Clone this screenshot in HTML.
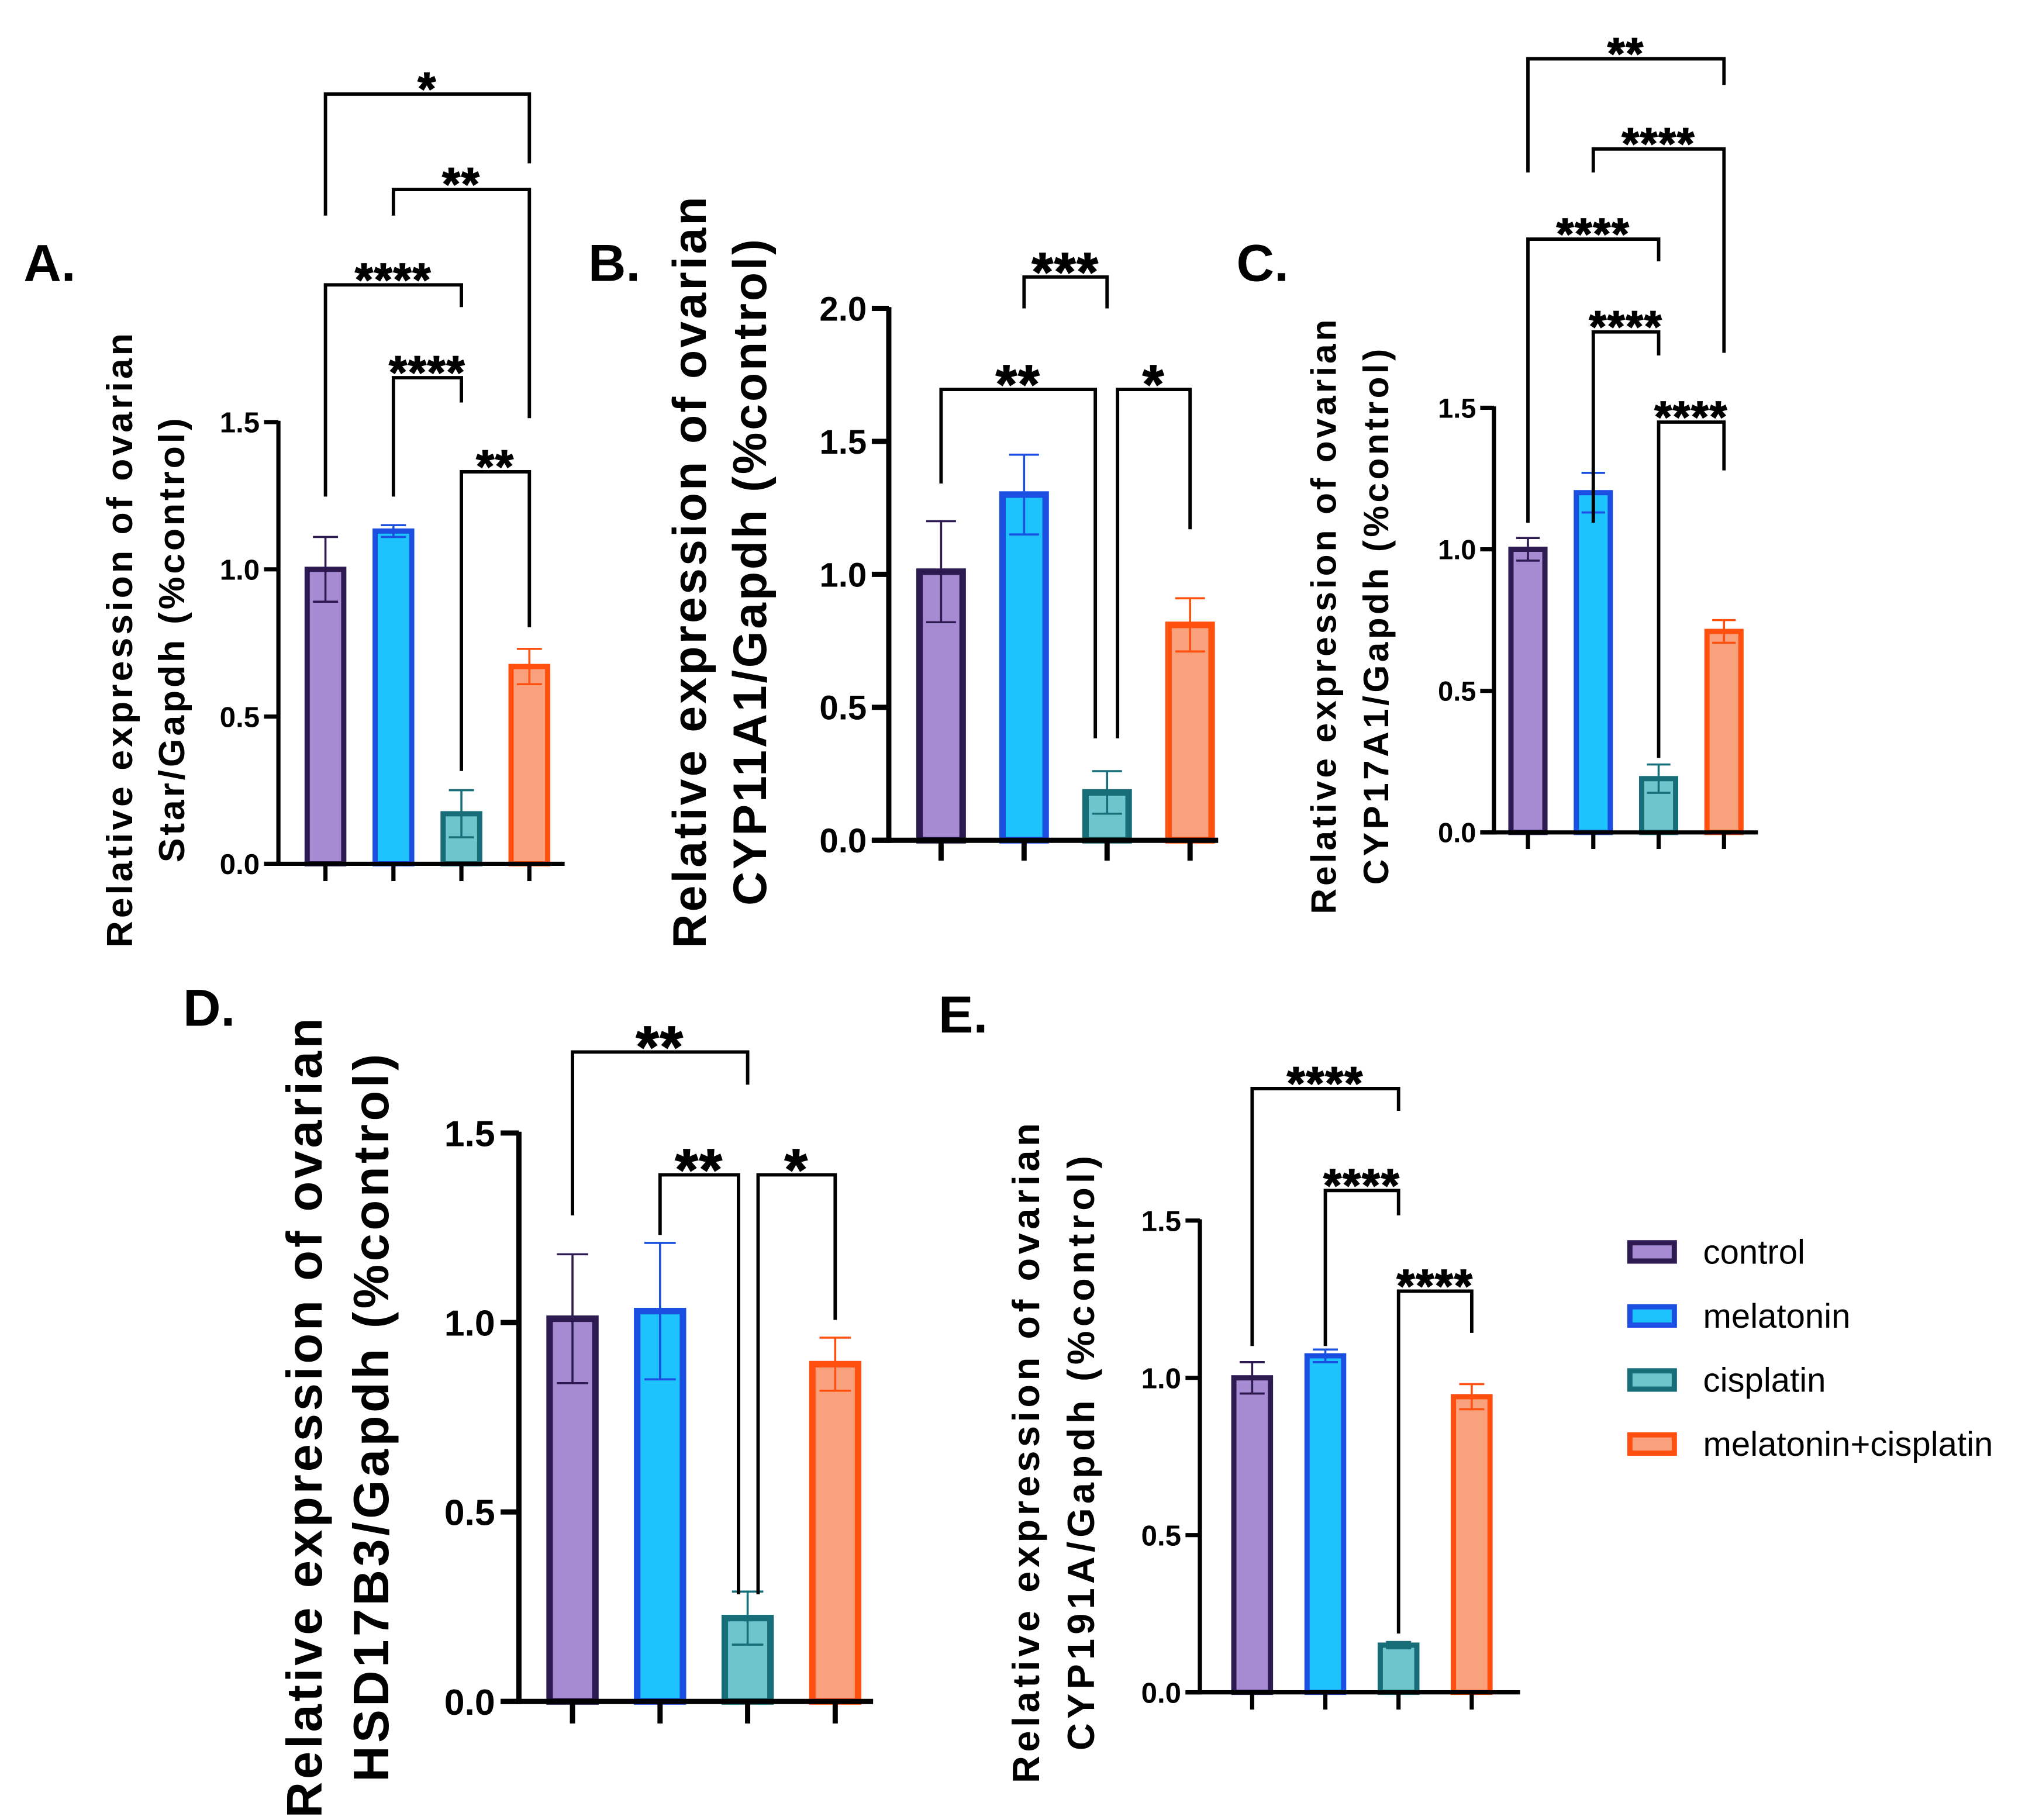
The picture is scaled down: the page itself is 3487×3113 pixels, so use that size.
<!DOCTYPE html>
<html><head><meta charset="utf-8"><style>
html,body{margin:0;padding:0;background:#fff;}
svg{display:block;font-family:"Liberation Sans",Arial,sans-serif;font-weight:bold;}
</style></head><body>
<svg id="fig" width="3487" height="3113" viewBox="0 0 1560 1392.7" xmlns="http://www.w3.org/2000/svg"></svg>
<script>
// ===== data =====
const groups = ["control","melatonin","cisplatin","melatonin+cisplatin"];
const valsA = [1.00, 1.13, 0.17, 0.67];
const errA  = [0.11, 0.02, 0.08, 0.06];
const valsB = [1.01, 1.30, 0.18, 0.81];
const errB  = [0.19, 0.15, 0.08, 0.10];
const valsC = [1.00, 1.20, 0.19, 0.71];
const errC  = [0.04, 0.07, 0.05, 0.04];
const valsD = [1.01, 1.03, 0.22, 0.89];
const errD  = [0.17, 0.18, 0.07, 0.07];
const valsE = [1.00, 1.07, 0.15, 0.94];
const errE  = [0.05, 0.02, 0.01, 0.04];
const ticksA = [0, 0.5, 1.0, 1.5];
const ticksB = [0, 0.5, 1.0, 1.5, 2.0];
const ticksC = [0, 0.5, 1.0, 1.5];
const ticksD = [0, 0.5, 1.0, 1.5];
const ticksE = [0, 0.5, 1.0, 1.5];
// significance comparisons: [groupIndex1, groupIndex2, label]
const sigA = [[0,3,"*"],[1,3,"**"],[0,2,"****"],[1,2,"****"],[2,3,"**"]];
const sigB = [[1,2,"***"],[0,2,"**"],[2,3,"*"]];
const sigC = [[0,3,"**"],[1,3,"****"],[0,2,"****"],[1,2,"****"],[2,3,"****"]];
const sigD = [[0,2,"**"],[1,2,"**"],[2,3,"*"]];
const sigE = [[0,2,"****"],[1,2,"****"],[2,3,"****"]];

const fills = ["#a68bd3","#1ec3fd","#6ec6cc","#f9a17c"];
const strokes = ["#2c1a50","#1a4fe2","#176e78","#ff5010"];

const svg = document.getElementById('fig');
const NS = "http://www.w3.org/2000/svg";
function mk(tag, attrs, parent){ const e=document.createElementNS(NS,tag); for(const k in attrs) e.setAttribute(k,attrs[k]); (parent||svg).appendChild(e); return e; }

// layout (pixel geometry, not data)
const panels = [
 {id:"a", vals:valsA, err:errA, ticks:ticksA, sig:sigA, ax:213, y0:661, ymax:1.5, ytop:323, x0:249, dx:52, bw:32, sw:4, fs:22, xend:432,
  letter:"A.", lx:18, ly:215, t1:"Relative expression of ovarian", t2:"Star/Gapdh (%control)", tx1:101, tx2:141, tcy:490, tfs:28, tl1:470, tl2:340,
  sigGeo:[[72,165,125],[145,165,320],[218,380,235],[289,380,308],[361,590,480]]},
 {id:"b", vals:valsB, err:errB, ticks:ticksB, sig:sigB, ax:680, y0:643, ymax:2.0, ytop:236, x0:720, dx:63.5, bw:38, sw:5, fs:26, xend:932,
  letter:"B.", lx:450, ly:215, t1:"Relative expression of ovarian", t2:"CYP11A1/Gapdh (%control)", tx1:540, tx2:586, tcy:438, tfs:36, tl1:575, tl2:510,
  sigGeo:[[212,236,236],[298,370,565],[298,565,405]], shift:[[0,0],[0,-9],[8,0]]},
 {id:"c", vals:valsC, err:errC, ticks:ticksC, sig:sigC, ax:1143, y0:637, ymax:1.5, ytop:312, x0:1169, dx:50, bw:30, sw:4, fs:21, xend:1345,
  letter:"C.", lx:946, ly:215, t1:"Relative expression of ovarian", t2:"CYP17A1/Gapdh (%control)", tx1:1022, tx2:1062, tcy:472, tfs:27, tl1:455, tl2:410,
  sigGeo:[[45,132,65],[114,132,270],[183,400,200],[254,400,272],[323,580,360]]},
 {id:"d", vals:valsD, err:errD, ticks:ticksD, sig:sigD, ax:397, y0:1302, ymax:1.5, ytop:867, x0:438, dx:67, bw:40, sw:5, fs:28, xend:668,
  letter:"D.", lx:140, ly:785, t1:"Relative expression of ovarian", t2:"HSD17B3/Gapdh (%control)", tx1:246, tx2:297, tcy:1085, tfs:38, tl1:612, tl2:557,
  sigGeo:[[805,930,830],[899,945,1220],[899,1220,1010]], shift:[[0,0],[0,-7],[8,0]]},
 {id:"e", vals:valsE, err:errE, ticks:ticksE, sig:sigE, ax:918, y0:1295, ymax:1.5, ytop:934, x0:958, dx:56, bw:32, sw:4, fs:22, xend:1163,
  letter:"E.", lx:718, ly:790, t1:"Relative expression of ovarian", t2:"CYP191A/Gapdh (%control)", tx1:795, tx2:837, tcy:1112, tfs:29, tl1:505, tl2:455,
  sigGeo:[[833,1030,850],[911,1030,930],[988,1250,1020]]}
];

panels.forEach(p=>{
  const g = mk('g',{});
  
  
  const y = v => p.y0 - (v/p.ymax)*(p.y0-p.ytop);
  const x = i => p.x0 + i*p.dx;
  const lw = p.sw*0.8;
  const L = mk('text',{x:p.lx,y:p.ly,'font-size':40},g); L.textContent=p.letter;
  
  
  [[p.t1,p.tx1,p.tl1],[p.t2,p.tx2,p.tl2]].forEach(([t,tx,tl])=>{
    const T = mk('text',{x:tx,y:p.tcy,'font-size':p.tfs,'text-anchor':'middle',textLength:tl,lengthAdjust:'spacing',transform:`rotate(-90 ${tx} ${p.tcy})`},g);
    T.textContent=t;
    
    
  });
  p.vals.forEach((v,i)=>{
    const top=y(v), bx=x(i)-p.bw/2;
    const r = mk('rect',{x:bx+p.sw/2,y:top,width:p.bw-p.sw,height:p.y0-top,fill:fills[i],stroke:strokes[i],'stroke-width':p.sw},g);
    
    
    const e=p.err[i], cap=p.bw*0.3;
    const eb = mk('path',{d:`M${x(i)} ${y(v-e)}V${y(v+e)}M${x(i)-cap} ${y(v+e)}H${x(i)+cap}M${x(i)-cap} ${y(v-e)}H${x(i)+cap}`,stroke:strokes[i],'stroke-width':1.6,fill:'none'},g);
    
    
    const tk = mk('line',{x1:x(i),x2:x(i),y1:p.y0,y2:p.y0+p.fs*0.6,stroke:'#000','stroke-width':lw},g);
    
    
  });
  const ya = mk('line',{x1:p.ax,x2:p.ax,y1:p.ytop-1,y2:p.y0+lw/2,stroke:'#000','stroke-width':lw},g);
  
  
  const xa = mk('line',{x1:p.ax-p.fs*0.5,x2:p.xend,y1:p.y0,y2:p.y0,stroke:'#000','stroke-width':lw},g);
  
  
  p.ticks.forEach(t=>{
    mk('line',{x1:p.ax-p.fs*0.5,x2:p.ax,y1:y(t),y2:y(t),stroke:'#000','stroke-width':lw},g);
    const tl = mk('text',{x:p.ax-p.fs*0.65,y:y(t)+p.fs*0.36,'font-size':p.fs,'text-anchor':'end'},g);
    tl.textContent=t.toFixed(1);
    
    
  });
  p.sig.forEach((s,k)=>{
    const [top,lb,rb]=p.sigGeo[k];
    const sh = p.shift?p.shift[k]:[0,0];
    const x1=x(s[0])+sh[0], x2=x(s[1])+sh[1];
    const br = mk('path',{d:`M${x1} ${lb}V${top}H${x2}V${rb}`,stroke:'#000','stroke-width':2.6,fill:'none'},g);
    
    
    const st = mk('text',{x:(x1+x2)/2,y:top-4+p.fs*0.55,'font-size':p.fs*1.6,'text-anchor':'middle','letter-spacing':1,stroke:'#000','stroke-width':0.8},g);
    st.textContent=s[2];
    
    
  });
});

const lg = mk('g',{});


groups.forEach((gname,i)=>{
  const yy = 958 + i*49;
  const r = mk('rect',{x:1247,y:yy-7,width:34,height:14,fill:fills[i],stroke:strokes[i],'stroke-width':4},lg);
  
  
  const t = mk('text',{x:1303,y:yy+9,'font-size':26,'font-weight':'normal'},lg);
  t.textContent=gname;
  
  
});
</script>
</body></html>
